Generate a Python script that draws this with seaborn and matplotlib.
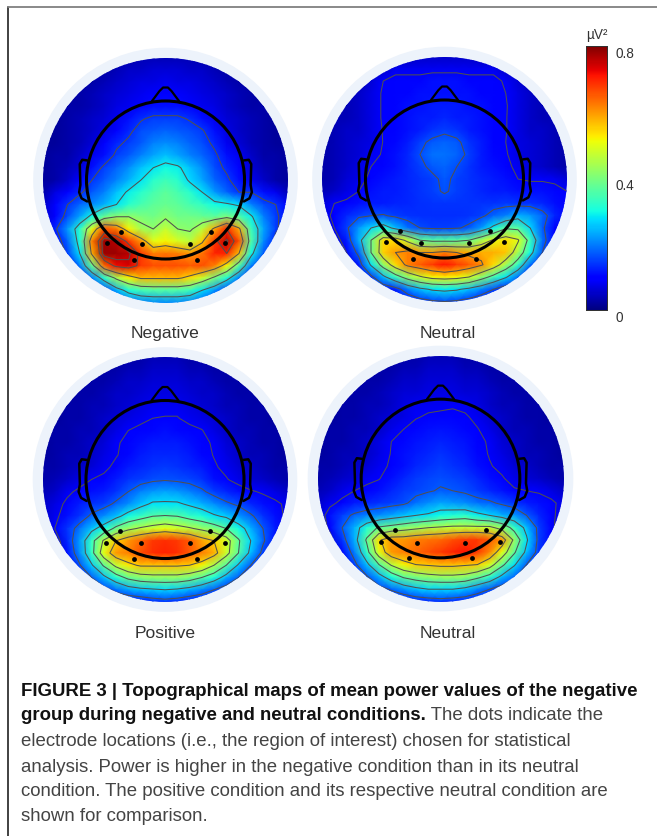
import matplotlib
matplotlib.use("Agg")
import numpy as np
import matplotlib.pyplot as plt
import matplotlib.transforms as mtrans
from matplotlib.patches import Circle
import seaborn as sns

sns.set_theme(style="white")
plt.rcParams['font.family'] = ['Liberation Sans', 'DejaVu Sans']

# power values (hundredths of uV2), 21 x 21 nodes over the disc
negative_map = [
    [1, 1, 1, 2, 2, 3, 3, 3, 4, 4, 4, 4, 4, 3, 3, 3, 2, 2, 1, 1, 1],
    [1, 1, 2, 2, 3, 3, 4, 5, 5, 6, 6, 6, 5, 5, 4, 3, 3, 2, 2, 1, 1],
    [1, 2, 2, 3, 3, 4, 5, 6, 7, 7, 8, 7, 7, 6, 5, 4, 3, 3, 2, 2, 1],
    [1, 2, 2, 3, 4, 5, 6, 7, 8, 9, 9, 9, 8, 7, 6, 5, 4, 3, 2, 2, 1],
    [1, 2, 3, 3, 4, 5, 7, 8, 10, 11, 11, 11, 10, 8, 7, 5, 4, 3, 3, 2, 1],
    [2, 2, 3, 4, 5, 6, 8, 11, 13.5, 15, 15, 15, 13.5, 11, 8, 6, 5, 4, 3, 2, 2],
    [2, 2, 3, 4, 5, 7, 10, 13, 16, 17, 18, 17, 16, 14.5, 11, 7, 5, 4, 3, 2, 2],
    [2, 2, 3, 4, 6, 9, 13, 15, 17, 20, 21, 20, 18, 16, 13, 8, 6, 4, 3, 2, 2],
    [2, 3, 3, 5, 8, 11, 15, 17, 20, 23, 25, 23, 20, 18, 15, 11, 8, 5, 3, 3, 2],
    [2, 3, 4, 6, 11, 15, 18, 21, 25, 28, 30, 29, 25, 21, 16, 13, 10, 6, 4, 3, 2],
    [2, 3, 5, 9, 14, 17, 20, 24, 28, 32, 34, 32, 27, 23, 18, 15, 11, 8, 5, 3, 2],
    [3, 7, 9, 13, 17, 20, 25, 29, 32, 35, 37, 35, 32, 28, 22, 18, 14, 14, 11, 8, 4],
    [5, 9, 14, 18, 21, 24, 28, 32, 35, 37, 38, 37, 35, 33, 30, 29, 27, 20, 16, 14, 10],
    [6, 10, 16, 23, 30, 38, 42, 42, 40, 39, 41, 39, 39, 38, 37, 40, 36, 29, 20, 15, 11],
    [7, 13, 22, 32, 50, 66, 62, 52, 44, 42, 47, 42, 41, 46, 58, 70, 58, 34, 23, 15, 10],
    [5, 10, 18, 31, 62, 78, 76, 68, 60, 50, 52, 49, 46, 55, 68, 76, 66, 36, 21, 12, 8],
    [4, 8, 15, 28, 58, 78, 78, 76, 68, 62, 63, 62, 60, 63, 70, 70, 56, 30, 17, 10, 6],
    [3, 5, 10, 20, 38, 64, 72, 74, 68, 66, 66, 66, 65, 66, 62, 52, 36, 20, 12, 7, 5],
    [2, 4, 7, 12, 20, 32, 44, 52, 57, 57, 57, 57, 54, 48, 40, 31, 20, 12, 7, 4, 3],
    [2, 3, 4, 6, 10, 15, 24, 31, 35, 36, 36, 36, 34, 28, 22, 15, 10, 6, 4, 3, 2],
    [1, 2, 3, 4, 6, 9, 13, 18, 20, 21, 21, 21, 20, 17, 13, 9, 6, 4, 3, 2, 1],
]

neutral_map_a = [
    [2, 2, 2, 2, 3, 3, 4, 4, 5, 5, 5, 5, 5, 4, 4, 3, 3, 2, 2, 2, 2],
    [2, 2, 3, 3, 4, 5, 8, 8, 8, 8, 8, 8, 8, 8, 8, 5, 4, 3, 3, 2, 2],
    [2, 3, 3, 4, 6, 9, 10, 10, 10, 11, 11, 11, 10, 10, 10, 8.5, 6, 4, 3, 3, 2],
    [3, 3, 4, 5, 7, 9.5, 10, 10, 11, 11, 11, 11, 11, 10, 10, 9, 7, 5, 4, 3, 3],
    [3, 4, 4, 5, 7, 9.5, 10, 11, 11, 12, 12, 12, 11, 11, 10, 9.3, 7, 5, 4, 4, 3],
    [3, 4, 4, 5, 7, 9.5, 10, 11, 12, 12, 13, 12, 12, 11, 10, 9.2, 7, 5, 4, 4, 3],
    [3, 4, 5, 5, 7, 9.2, 10, 11, 12, 14, 15, 14, 12, 11, 10, 9.2, 7, 5, 5, 4, 3],
    [3, 4, 5, 6, 7, 9.1, 10.5, 12, 15, 17, 18, 17, 14, 12, 10, 9, 7, 6, 5, 4, 3],
    [3, 4, 5, 6, 8, 9.3, 11, 13, 16, 19, 19, 18, 15, 12, 10.5, 9.4, 7, 6, 5, 4, 3],
    [3, 4, 5, 7, 9, 10, 11, 13, 15, 17, 18, 16, 14, 12, 11, 10, 8, 6, 5, 4, 3],
    [3, 4, 6, 7.5, 10, 11, 12, 13, 14, 15, 17, 15, 14, 13, 12, 11, 9, 8.5, 8.5, 8, 6],
    [4, 5, 7, 9, 11, 12, 12, 13, 14, 15, 16.5, 15, 14, 13, 12, 12, 11, 11, 11, 10.5, 9],
    [6, 9, 10, 11, 12, 12, 12.5, 13, 13.5, 14, 14, 14, 14, 14, 14, 14.5, 14, 14, 13, 11, 9],
    [7, 10, 13, 15, 16, 16.5, 15, 14, 13.5, 13.5, 13.5, 13.5, 14, 15, 18, 20, 24, 22, 18, 13, 9],
    [5, 9, 15, 22, 27, 31, 25, 19, 16, 15, 15, 15.5, 17, 22, 29, 37, 36, 27, 17, 10, 6],
    [3, 6, 12, 24, 38, 54, 54, 47, 38, 36, 36, 36, 38, 44, 50, 54, 50, 34, 19, 9, 5],
    [3, 5, 9, 18, 38, 55, 60, 62, 60, 60, 62, 60, 58, 58, 58, 56, 44, 30, 16, 7, 4],
    [2, 3, 6, 12, 28, 42, 54, 62, 65, 68, 71, 68, 65, 61, 54, 44, 33, 19, 10, 5, 3],
    [2, 3, 4, 7, 14, 25, 34, 42, 48, 52, 53, 52, 49, 42, 35, 28, 19, 10, 6, 3, 2],
    [1, 2, 3, 4, 7, 10, 13, 20, 25, 28, 29, 28, 25, 21, 16, 11, 7, 4, 3, 2, 1],
    [1, 1, 2, 3, 4, 6, 8, 10, 13, 15, 16, 15, 13, 10, 8, 6, 4, 3, 2, 1, 1],
]

positive_map = [
    [1, 1, 1, 2, 2, 2, 3, 3, 3, 4, 4, 4, 3, 3, 3, 2, 2, 2, 1, 1, 1],
    [1, 1, 2, 2, 3, 3, 3, 4, 4, 5, 5, 5, 4, 4, 3, 3, 3, 2, 2, 1, 1],
    [1, 2, 2, 3, 3, 3, 4, 5, 5, 6, 6, 6, 5, 5, 4, 3, 3, 3, 2, 2, 1],
    [2, 2, 2, 3, 3, 4, 5, 5, 6, 7, 7, 7, 6, 5, 5, 4, 3, 3, 2, 2, 2],
    [2, 2, 3, 3, 4, 4, 5, 6, 7, 8, 8, 8, 7, 6, 5, 4, 4, 3, 3, 2, 2],
    [2, 2, 3, 3, 4, 5, 6, 7, 8, 9, 9.2, 9.2, 8, 7, 6, 5, 4, 3, 3, 2, 2],
    [2, 3, 3, 4, 4, 5, 7, 9, 10, 10.5, 11, 10.5, 10, 9.2, 7, 5, 4, 4, 3, 3, 2],
    [2, 3, 3, 4, 5, 6, 8.5, 10, 11, 12, 12, 12, 11, 10, 8.5, 6, 5, 4, 3, 3, 2],
    [2, 3, 4, 4, 5, 7, 8.7, 10.5, 12, 13, 13, 13, 12, 10.5, 8.8, 7, 5, 4, 4, 3, 2],
    [3, 3, 4, 5, 6, 8, 10, 12, 13, 14, 14.5, 14, 13, 12, 9.5, 8, 6, 5, 4, 3, 3],
    [3, 4, 5, 7, 9, 10, 12, 14, 15, 16, 16.5, 16, 15.5, 14, 11, 9.3, 7.5, 6, 5, 4, 3],
    [4, 5, 8, 10, 11, 12, 14, 17, 20, 22, 23, 22, 20, 18, 15, 13, 11, 9.5, 8.5, 7, 5],
    [5, 7, 10, 12, 14, 15, 18, 21, 25, 28, 28, 28, 26, 24, 21, 18, 16, 13, 11, 10, 8],
    [5, 8, 11, 14, 18, 21, 25, 30, 33, 36, 36.5, 36, 33, 31, 28, 26, 22, 18, 14, 11, 8],
    [5, 9, 14, 19, 25, 30, 38, 43, 46, 48, 50, 48, 46, 43, 40, 36, 30, 24, 17, 12, 8],
    [4, 6, 13, 22, 33, 46, 55, 60, 64, 68, 69, 68, 65, 59, 55, 49, 37, 27, 18, 11, 6],
    [3, 5, 11, 21, 33, 50, 60, 62, 66, 69, 70, 69, 65, 62, 58, 48, 36, 25, 15, 8, 5],
    [2, 4, 8, 16, 26, 37, 47, 53, 56, 56, 56, 56, 55, 52, 45, 36, 26, 17, 10, 5, 3],
    [2, 3, 5, 10, 17, 25, 32, 38, 41, 42, 42, 42, 40, 36, 31, 24, 17, 10, 6, 3, 2],
    [1, 2, 3, 6, 9, 14, 19, 23, 25, 26, 27, 26, 24, 21, 17, 13, 9, 6, 3, 2, 1],
    [1, 1, 2, 3, 5, 7, 9, 10, 11, 13, 14, 13, 11, 10, 8, 6, 5, 3, 2, 1, 1],
]

neutral_map_b = [
    [1, 1, 1, 2, 2, 2, 3, 3, 3, 4, 4, 4, 3, 3, 3, 2, 2, 2, 1, 1, 1],
    [1, 1, 2, 2, 3, 3, 3, 4, 4, 5, 5, 5, 4, 4, 3, 3, 3, 2, 2, 1, 1],
    [1, 2, 2, 3, 3, 3, 4, 5, 5, 6, 6, 6, 5, 5, 4, 3, 3, 3, 2, 2, 1],
    [2, 2, 2, 3, 3, 4, 5, 6, 6, 7, 7, 7, 6, 6, 5, 4, 3, 3, 2, 2, 2],
    [2, 2, 3, 3, 4, 4, 5, 7, 8, 8, 8, 8.5, 8, 7, 5, 4, 4, 3, 3, 2, 2],
    [2, 2, 3, 3, 4, 5, 6, 7, 8.7, 9.5, 10, 10, 9.5, 8, 6, 5, 4, 3, 3, 2, 2],
    [2, 3, 3, 4, 4, 5, 7.5, 9, 10.5, 11, 11.5, 11, 10.5, 9.2, 7.5, 5, 4, 4, 3, 3, 2],
    [2, 3, 3, 4, 5, 7, 9, 10.5, 11.5, 12, 12.5, 12, 11.5, 10, 8.5, 6, 5, 4, 3, 3, 2],
    [2, 3, 4, 4, 5, 7, 9.2, 11, 12, 13, 14, 13, 12, 10.5, 8.7, 7, 5, 4, 4, 3, 2],
    [3, 3, 4, 5, 6, 8, 9.5, 11, 13, 14, 15, 14, 13, 11, 9.3, 8, 6, 5, 4, 3, 3],
    [3, 4, 5, 6, 8, 8.8, 11, 13, 14.5, 15.5, 16, 15.5, 14.5, 13, 11, 9.4, 7.5, 6, 5, 4, 3],
    [4, 5, 7.5, 9, 10, 11, 13, 14.5, 15.5, 16.5, 17.5, 17, 16, 14.5, 13, 11.5, 9.5, 9, 8.5, 7, 5],
    [5, 8, 10, 12, 13, 14, 15, 16, 19, 21, 23, 22, 21, 19, 18, 16, 14, 12, 11, 10, 7.5],
    [6, 11, 15, 18, 20, 21, 23, 25, 27, 28, 30, 31, 32, 29, 27, 24, 22, 17, 13, 10, 7],
    [5, 10, 17, 24, 31, 37, 39, 41, 43, 45, 46, 47, 47, 47, 47, 42, 33, 25, 15, 10, 6],
    [4, 7, 14, 24, 37, 54, 60, 60, 62, 63, 64, 66, 68, 68, 65, 60, 43, 28, 15, 9, 5],
    [3, 5, 10, 20, 33, 50, 60, 62, 64, 66, 68, 70, 71, 68, 61, 50, 37, 25, 14, 8, 4],
    [2, 4, 7, 15, 25, 36, 46, 52, 55, 56, 57, 57, 56, 55, 49, 38, 28, 17, 10, 5, 3],
    [2, 3, 5, 10, 16, 24, 31, 37, 40, 42, 43, 43, 42, 38, 33, 25, 18, 11, 7, 3, 2],
    [1, 2, 3, 6, 9, 14, 18, 22, 25, 27, 27, 27, 25, 21, 17, 13, 9, 6, 3, 2, 1],
    [1, 1, 2, 3, 5, 7, 9, 10, 12, 13, 14, 13, 12, 10, 8, 6, 5, 3, 2, 1, 1],
]

map_titles = ["Negative", "Neutral", "Positive", "Neutral"]
map_grids = [negative_map, neutral_map_a, positive_map, neutral_map_b]
map_levels = [
    [14, 28, 42, 56, 70, 75],
    [9, 16, 27, 38, 49, 60],
    [9, 17, 27, 36, 45, 55],
    [9, 17, 27, 36, 45, 55],
]
# centre x, centre y, disc radius in pixels
map_boxes = [(165.5, 181, 122.5), (444.5, 180, 122.5), (165, 480.5, 122.5), (440.5, 479.5, 123)]
title_x = [165, 448, 165, 448]
title_y = [333, 333, 634, 634]

electrode_x = [6.34, 8.06, 12.0, 13.69, 5.2, 7.45, 12.59, 14.86]
electrode_y = [14.22, 15.22, 15.22, 14.22, 15.17, 16.5, 16.5, 15.17]

nose_x = [8.9, 9.5, 9.8, 10.2, 10.5, 11.1]
nose_y = [3.55, 2.75, 2.45, 2.45, 2.75, 3.55]
ear_x = [3.6, 3.2, 3.0, 3.05, 2.95, 3.15, 3.6]
ear_y = [8.4, 8.35, 8.7, 10.4, 11.0, 11.5, 11.75]

cbar_ticks = [0, 0.1, 0.2, 0.3, 0.4, 0.5, 0.6, 0.7, 0.8]
cbar_labels = ["0", "", "", "", "0.4", "", "", "", "0.8"]

W, H = 657, 837
fig = plt.figure(figsize=(W / 100, H / 100), dpi=100, facecolor="white")

page = fig.add_axes([0, 0, 1, 1])
page.set_xlim(0, W)
page.set_ylim(H, 0)
page.axis("off")
page.plot([8, 8], [8, H], color="#333333", lw=1.3)
page.plot([8, W], [8, 8], color="#808080", lw=1.3)

cax = fig.add_axes([586 / W, 1 - 311 / H, 21 / W, 264 / H])

for k in range(4):
    cx, cy, r = map_boxes[k]
    span = r * 1.1
    ax = fig.add_axes([(cx - span) / W, 1 - (cy + span) / H, 2 * span / W, 2 * span / H])
    grid = np.array(map_grids[k]) / 100.0
    sns.heatmap(grid, ax=ax, cmap="jet", vmin=0, vmax=0.8, shading="gouraud",
                xticklabels=False, yticklabels=False,
                cbar=k == 0, cbar_ax=cax if k == 0 else None)
    ax.set_xlim(-1, 21)
    ax.set_ylim(21, -1)
    ax.axis("off")
    disc = Circle((10, 10), 10, transform=ax.transData)
    ax.add_patch(Circle((10, 10), 10.8, facecolor="#edf3fb", edgecolor="none", zorder=0))
    ax.collections[0].set_clip_path(disc)
    lines = ax.contour(grid, levels=np.array(map_levels[k]) / 100.0, colors="#505050", linewidths=0.75)
    lines.set_clip_path(disc)

    ax.add_patch(Circle((10, 10), 6.45, fill=False, edgecolor="black", lw=2.2, zorder=5))
    ax.plot(nose_x, nose_y, color="black", lw=1.6, zorder=5)
    ax.plot(ear_x, ear_y, color="black", lw=1.8, zorder=5)
    ax.plot([20 - x for x in ear_x], ear_y, color="black", lw=1.8, zorder=5)
    sns.scatterplot(x=electrode_x, y=electrode_y, ax=ax, color="black", s=12, linewidth=0, zorder=6)
    ax.set_xlim(-1, 21)
    ax.set_ylim(21, -1)

    page.text(title_x[k], title_y[k], map_titles[k], ha="center", va="center", fontsize=12.6, color="#333333")

cax.set_yticks(cbar_ticks)
cax.set_yticklabels(cbar_labels)
cax.tick_params(axis="y", direction="in", left=True, right=True, length=2.5, width=0.7,
                color="black", labelsize=9.8, labelcolor="#333333", pad=6)
for lab in cax.get_yticklabels():
    lab.set_transform(lab.get_transform() + mtrans.ScaledTranslation(0, -5 / 100, fig.dpi_scale_trans))
for side in cax.spines.values():
    side.set_visible(True)
    side.set_color("#333333")
    side.set_linewidth(0.7)
page.text(597, 35, "µV²", ha="center", va="center", fontsize=9.8, color="#333333")

cap_size = 13.45
page.text(21, 691, "FIGURE 3 | Topographical maps of mean power values of the negative",
          fontsize=cap_size, fontweight="bold", color="#111111", va="center")
head2 = page.text(21, 716, "group during negative and neutral conditions.",
                  fontsize=cap_size, fontweight="bold", color="#111111", va="center")
page.annotate(" The dots indicate the", xy=(1, 0.5), xycoords=head2, va="center",
              fontsize=cap_size, color="#444444")
body_lines = ["electrode locations (i.e., the region of interest) chosen for statistical",
              "analysis. Power is higher in the negative condition than in its neutral",
              "condition. The positive condition and its respective neutral condition are",
              "shown for comparison."]
body_y = [742, 767, 792, 817]
for txt, y in zip(body_lines, body_y):
    page.text(21, y, txt, fontsize=cap_size, color="#444444", va="center")

fig.savefig("out.png", dpi=100)
